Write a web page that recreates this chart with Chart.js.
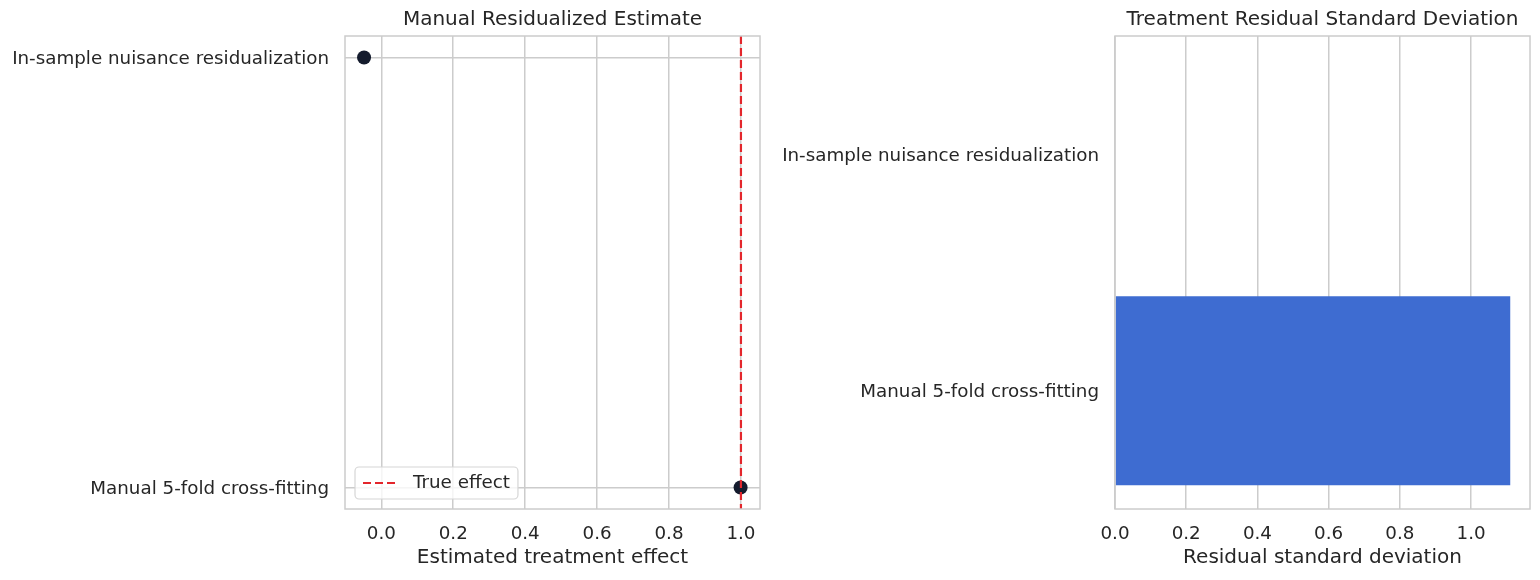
<!DOCTYPE html>
<html>
<head>
<meta charset="utf-8">
<script src="https://cdn.jsdelivr.net/npm/chart.js@4.4.0/dist/chart.umd.min.js"></script>
<style>
html, body { margin: 0; padding: 0; background: #fff; }
#wrap { position: relative; width: 1540px; height: 580px; }
.panel { position: absolute; top: 0; width: 770px; height: 580px; }
</style>
</head>
<body>
<div id="wrap">
  <div class="panel" style="left:0"><canvas id="estChart" width="770" height="580"></canvas></div>
  <div class="panel" style="left:770px"><canvas id="sdChart" width="770" height="580"></canvas></div>
</div>
<script>
// data
const methods = ['In-sample nuisance residualization', 'Manual 5-fold cross-fitting'];
const estimates = [-0.048, 0.999];
const trueEffect = 1.0;
const residualSd = [0.0, 1.11];
const effectTicks = [0, 0.2, 0.4, 0.6, 0.8, 1.0];
const sdTicks = [0, 0.2, 0.4, 0.6, 0.8, 1.0];

const textColor = '#262626';
const gridColor = '#cccccc';
const tickSize = 18.3;
const labelSize = 20;

Chart.defaults.font.family = "'DejaVu Sans', sans-serif";
Chart.defaults.color = textColor;

// frame around the plot area (like matplotlib spines)
const framePlugin = {
    id: 'frame',
    afterDatasetsDraw(chart) {
        const a = chart.chartArea, ctx = chart.ctx;
        ctx.save();
        ctx.strokeStyle = gridColor;
        ctx.lineWidth = 1.5;
        ctx.strokeRect(a.left, a.top, a.right - a.left, a.bottom - a.top);
        ctx.restore();
    }
};

// legend box inside the plot, bottom-left
const insideLegend = {
    id: 'insideLegend',
    afterDraw(chart) {
        const a = chart.chartArea, ctx = chart.ctx;
        const ds = chart.data.datasets[0];
        ctx.save();
        ctx.font = tickSize + "px 'DejaVu Sans', sans-serif";
        const tw = ctx.measureText(ds.label).width;
        const bx = a.left + 10, by = a.bottom - 42, bw = 58 + tw + 8, bh = 32;
        ctx.beginPath();
        ctx.roundRect(bx, by, bw, bh, 4);
        ctx.fillStyle = 'rgba(255,255,255,0.8)';
        ctx.fill();
        ctx.strokeStyle = '#d6d6d6';
        ctx.lineWidth = 1.2;
        ctx.stroke();
        ctx.beginPath();
        ctx.setLineDash(ds.borderDash);
        ctx.strokeStyle = ds.borderColor;
        ctx.lineWidth = ds.borderWidth;
        ctx.moveTo(bx + 8, by + 16);
        ctx.lineTo(bx + 44, by + 16);
        ctx.stroke();
        ctx.setLineDash([]);
        ctx.fillStyle = textColor;
        ctx.textBaseline = 'middle';
        ctx.fillText(ds.label, bx + 58, by + 16);
        ctx.restore();
    }
};

function titleOpts(text) {
    return {
        display: true,
        text: text,
        fullSize: false,
        color: textColor,
        font: { size: labelSize, weight: 'normal' },
        padding: { top: 8, bottom: 4 }
    };
}

function xAxis(ticks, min, max, label) {
    return {
        type: 'linear',
        min: min,
        max: max,
        afterBuildTicks: s => { s.ticks = ticks.map(v => ({ value: v })); },
        ticks: { callback: v => v.toFixed(1), font: { size: tickSize }, padding: 14, color: textColor, maxRotation: 0 },
        grid: { color: gridColor, lineWidth: 1.5, drawTicks: false },
        border: { display: false },
        title: { display: true, text: label, color: textColor, font: { size: labelSize }, padding: { top: 0, bottom: 10 } },
        afterFit: s => { s.height = 71; }
    };
}

// left: estimates
new Chart(document.getElementById('estChart'), {
    type: 'scatter',
    data: {
        datasets: [{
            type: 'line',
            label: 'True effect',
            data: [{ x: trueEffect, y: -0.05 }, { x: trueEffect, y: 1.05 }],
            borderColor: '#e3262c',
            borderDash: [8, 4],
            borderWidth: 2.2,
            pointRadius: 0,
            order: 0
        }, {
            label: 'Estimate',
            data: methods.map((m, i) => ({ x: estimates[i], y: i })),
            backgroundColor: '#141b2d',
            borderWidth: 0,
            pointRadius: 7,
            order: 1
        }]
    },
    options: {
        responsive: false,
        animation: false,
        layout: { padding: { left: 0, right: 10, top: 0, bottom: 0 } },
        plugins: {
            legend: { display: false },
            tooltip: { enabled: false },
            title: titleOpts('Manual Residualized Estimate')
        },
        scales: {
            x: xAxis(effectTicks, -0.101, 1.053, 'Estimated treatment effect'),
            y: {
                type: 'linear',
                reverse: true,
                min: -0.05,
                max: 1.05,
                afterBuildTicks: s => { s.ticks = methods.map((m, i) => ({ value: i })); },
                ticks: { callback: v => methods[v], font: { size: tickSize }, padding: 16, labelOffset: 2, color: textColor },
                grid: { color: gridColor, lineWidth: 1.5, drawTicks: false },
                border: { display: false },
                afterFit: s => { s.width = 345; }
            }
        }
    },
    plugins: [framePlugin, insideLegend]
});

// right: residual sd
new Chart(document.getElementById('sdChart'), {
    type: 'bar',
    data: {
        labels: methods,
        datasets: [{
            label: 'Residual standard deviation',
            data: residualSd,
            backgroundColor: '#3e6cd1',
            barPercentage: 0.8,
            categoryPercentage: 1.0
        }]
    },
    options: {
        indexAxis: 'y',
        responsive: false,
        animation: false,
        layout: { padding: { left: 0, right: 10, top: 0, bottom: 0 } },
        plugins: {
            legend: { display: false },
            tooltip: { enabled: false },
            title: titleOpts('Treatment Residual Standard Deviation')
        },
        scales: {
            x: xAxis(sdTicks, 0, 1.1655, 'Residual standard deviation'),
            y: {
                ticks: { font: { size: tickSize }, padding: 16, labelOffset: 2, color: textColor },
                grid: { display: false, drawTicks: false },
                border: { display: false },
                afterFit: s => { s.width = 345; }
            }
        }
    },
    plugins: [framePlugin]
});
</script>
</body>
</html>
